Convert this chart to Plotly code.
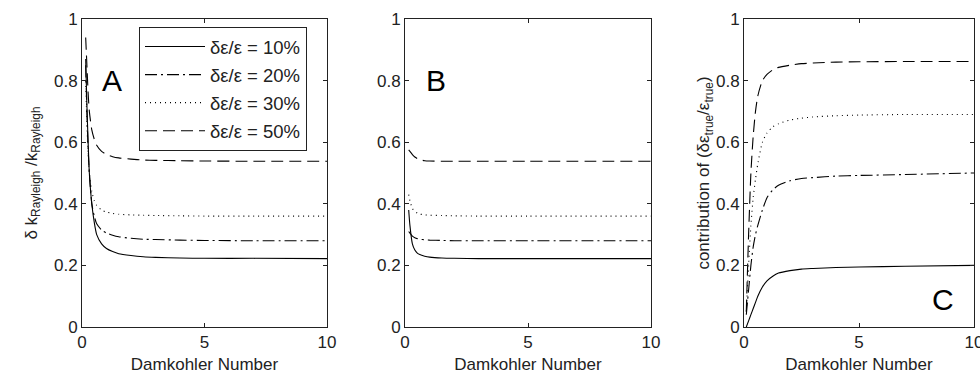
import plotly.graph_objects as go

# ---------------- data ----------------
series_names = ["δε/ε = 10%", "δε/ε = 20%", "δε/ε = 30%", "δε/ε = 50%"]

x_A = [0.15, 0.2, 0.25, 0.3, 0.4, 0.5, 0.6, 0.8, 1.0, 1.25, 1.5, 2, 2.5, 3, 4, 5, 7, 10]
A10 = [0.87, 0.72, 0.60, 0.50, 0.40, 0.34, 0.30, 0.27, 0.255, 0.245, 0.238, 0.232, 0.228, 0.226, 0.224, 0.223, 0.223, 0.222]
A20 = [0.85, 0.70, 0.58, 0.50, 0.40, 0.36, 0.335, 0.315, 0.305, 0.298, 0.293, 0.288, 0.285, 0.284, 0.282, 0.281, 0.280, 0.280]
A30 = [0.80, 0.66, 0.56, 0.50, 0.44, 0.41, 0.395, 0.380, 0.373, 0.369, 0.366, 0.364, 0.363, 0.362, 0.361, 0.360, 0.360, 0.360]
A50 = [0.94, 0.85, 0.76, 0.70, 0.64, 0.61, 0.59, 0.57, 0.56, 0.553, 0.549, 0.545, 0.542, 0.541, 0.540, 0.539, 0.538, 0.538]

x_B = [0.15, 0.2, 0.3, 0.4, 0.5, 0.6, 0.8, 1.0, 1.5, 2, 3, 5, 10]
B10 = [0.38, 0.33, 0.27, 0.25, 0.24, 0.235, 0.23, 0.227, 0.224, 0.223, 0.222, 0.222, 0.222]
B20 = [0.31, 0.305, 0.295, 0.29, 0.287, 0.285, 0.283, 0.282, 0.281, 0.280, 0.280, 0.280, 0.280]
B30 = [0.43, 0.41, 0.385, 0.375, 0.370, 0.367, 0.364, 0.363, 0.362, 0.361, 0.360, 0.360, 0.360]
B50 = [0.575, 0.57, 0.56, 0.552, 0.547, 0.543, 0.540, 0.539, 0.538, 0.538, 0.538, 0.538, 0.538]

x_C = [0.1, 0.2, 0.3, 0.4, 0.5, 0.6, 0.8, 1.0, 1.25, 1.5, 2, 2.5, 3, 4, 5, 7, 10]
C10 = [0.0, 0.02, 0.04, 0.06, 0.08, 0.10, 0.13, 0.15, 0.165, 0.175, 0.183, 0.188, 0.190, 0.193, 0.195, 0.197, 0.200]
C20 = [0.04, 0.12, 0.20, 0.26, 0.30, 0.33, 0.38, 0.42, 0.445, 0.46, 0.475, 0.482, 0.485, 0.490, 0.492, 0.495, 0.500]
C30 = [0.05, 0.20, 0.33, 0.42, 0.48, 0.53, 0.60, 0.63, 0.65, 0.66, 0.672, 0.678, 0.682, 0.686, 0.688, 0.690, 0.690]
C50 = [0.05, 0.30, 0.50, 0.62, 0.70, 0.75, 0.80, 0.82, 0.835, 0.843, 0.850, 0.855, 0.857, 0.860, 0.861, 0.862, 0.862]

x_ticks = [0, 5, 10]
y_ticks = [0, 0.2, 0.4, 0.6, 0.8, 1]
y_tick_text = ["0", "0.2", "0.4", "0.6", "0.8", "1"]
panel_labels = ["A", "B", "C"]

# ---------------- styles ----------------
dashes = ["solid", "12px,4px,2px,4px", "1px,4px", "12px,6px"]
FONT = "Liberation Sans, Arial, sans-serif"
INK = "#222222"

fig = go.Figure()
panels = [
    (x_A, [A10, A20, A30, A50], "x", "y"),
    (x_B, [B10, B20, B30, B50], "x2", "y2"),
    (x_C, [C10, C20, C30, C50], "x3", "y3"),
]
for p, (xs, ys_list, xa, ya) in enumerate(panels):
    for i, ys in enumerate(ys_list):
        fig.add_trace(go.Scatter(
            x=xs, y=ys, mode="lines", xaxis=xa, yaxis=ya,
            name=series_names[i], legendgroup=series_names[i],
            showlegend=(p == 0),
            line=dict(color="black", width=1.1, dash=dashes[i], shape="spline", smoothing=0.6),
        ))

W, H = 980, 377
doms = [(82, 327), (405, 651), (744, 974)]
ydom = [(H - 327) / H, (H - 19) / H]

axis_common = dict(
    showgrid=False, zeroline=False, showline=True, linecolor=INK, linewidth=1,
    mirror="ticks", ticks="inside", ticklen=4, tickcolor=INK, automargin=False,
    ticklabeloverflow="allow",
    tickfont=dict(family=FONT, size=17, color=INK),
)
layout = dict(
    width=W, height=H, margin=dict(l=0, r=0, t=0, b=0, autoexpand=False),
    paper_bgcolor="white", plot_bgcolor="white",
    font=dict(family=FONT, size=17, color=INK),
    showlegend=True,
    legend=dict(
        x=139 / W, y=(H - 27) / H, xanchor="left", yanchor="top",
        bgcolor="white", bordercolor=INK, borderwidth=1,
        font=dict(family=FONT, size=18.5, color=INK),
        traceorder="grouped", tracegroupgap=1, itemwidth=60,
    ),
)
for k, (l, r) in enumerate(doms):
    suf = "" if k == 0 else str(k + 1)
    layout["xaxis" + suf] = dict(
        axis_common, domain=[l / W, r / W], range=[0, 10],
        tickvals=x_ticks, anchor="y" + suf,
        title=dict(text="Damkohler Number", font=dict(family=FONT, size=17, color=INK), standoff=6),
    )
    ytitle = ""
    standoff = 4
    if k == 0:
        ytitle = "δ k<sub>Rayleigh</sub> /k<sub>Rayleigh</sub>"
        standoff = 12
    elif k == 2:
        ytitle = "contribution of (δε<sub>true</sub>/ε<sub>true</sub>)"
        standoff = 0
    layout["yaxis" + suf] = dict(
        axis_common, domain=ydom, range=[0, 1],
        tickvals=y_ticks, ticktext=y_tick_text, anchor="x" + suf,
        title=dict(text=ytitle, font=dict(family=FONT, size=17, color=INK), standoff=standoff),
    )
fig.update_layout(**layout)

label_pos = [(1.22, 0.80), (1.26, 0.80), (8.65, 0.09)]
for k, (lx, ly) in enumerate(label_pos):
    suf = "" if k == 0 else str(k + 1)
    fig.add_annotation(x=lx, y=ly, xref="x" + suf, yref="y" + suf, text=panel_labels[k],
                       showarrow=False, font=dict(family=FONT, size=30, color="black"))

fig.write_html("out.html", config={"displayModeBar": False},
               post_script="document.body.style.margin='0';document.body.style.overflow='hidden';")
